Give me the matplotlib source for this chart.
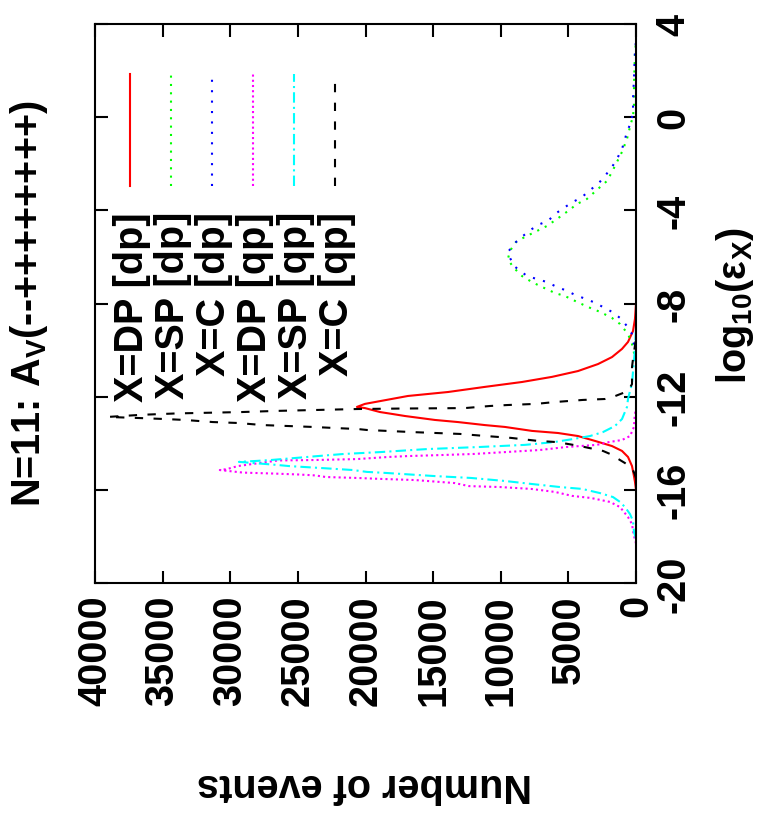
import matplotlib
matplotlib.use("Agg")
import matplotlib.pyplot as plt
import numpy as np

le_dp_dp = [-16.0, -15.66, -15.41, -14.98, -14.59, -14.33, -14.12, -13.90, -13.69, -13.56,
            -13.47, -13.30, -13.22, -13.09, -13.00, -12.83, -12.74, -12.66, -12.49, -12.44,
            -12.31, -11.97, -11.80, -11.58, -11.37, -11.15, -10.90, -10.60, -10.30, -9.95,
            -9.65, -9.18, -8.66, -8.0]
n_dp_dp = [0, 75, 150, 295, 590, 1035, 1775, 3030, 4290, 5770,
           7690, 9690, 11170, 13165, 14865, 17085, 18050, 18930, 20040, 20635,
           20040, 16860, 13900, 11170, 8430, 6210, 4290, 2810, 1775, 1035,
           590, 220, 75, 0]

le_sp_dp = [-10.5, -9.74, -9.31, -8.88, -8.62, -8.36, -8.15, -7.93, -7.68, -7.55,
            -7.29, -7.08, -6.82, -6.43, -6.09, -5.74, -5.36, -5.14, -4.93, -4.67,
            -4.37, -4.03, -3.73, -3.51, -3.08, -2.74, -2.35, -1.92, -1.49, -0.93,
            -0.42, 0.05, 0.48, 1.34, 2.80, 3.2]
n_sp_dp = [0, 295, 590, 1183, 1775, 2660, 3550, 4365, 5250, 5990,
           6950, 7690, 8430, 9100, 9470, 9320, 8875, 8210, 7470, 6580,
           5840, 5030, 4365, 3625, 2810, 2145, 1775, 1405, 1035, 665,
           445, 220, 150, 150, 75, 0]

le_c_dp = [-10.2, -9.31, -8.97, -8.62, -8.36, -8.15, -7.93, -7.76, -7.63, -7.46,
           -7.25, -7.08, -6.82, -6.40, -5.87, -5.74, -5.40, -5.10, -4.80, -4.59,
           -4.46, -4.16, -3.86, -3.64, -3.43, -3.13, -2.87, -2.52, -2.14, -1.79,
           -1.37, -0.64, -0.21, 0.22, 0.78, 1.64, 2.80, 3.3]
n_c_dp = [0, 295, 665, 1183, 1775, 2440, 3180, 3920, 4510, 5100,
          5990, 6580, 8060, 9000, 9470, 9400, 8950, 8360, 7690, 7100,
          6510, 5990, 5250, 4660, 3990, 3400, 2810, 2290, 1775, 1405,
          1035, 665, 370, 220, 220, 150, 75, 0]

le_dp_qp = [-18.3, -17.98, -17.77, -17.47, -17.17, -16.95, -16.74, -16.52, -16.35, -16.26,
            -16.09, -15.96, -15.88, -15.84, -15.71, -15.58, -15.53, -15.49, -15.45, -15.38,
            -15.34, -15.30, -15.26, -15.15, -15.11, -14.98, -14.74, -14.72, -14.68, -14.59,
            -14.55, -14.50, -14.46, -14.38, -14.29, -14.16, -14.07, -13.95, -13.86, -13.69,
            -13.30, -12.83, -12.5]
n_dp_qp = [0, 150, 220, 295, 590, 890, 1183, 1920, 3330, 4730,
           5990, 7770, 10060, 12350, 13390, 16345, 18930, 20635, 22930, 23740,
           25000, 26850, 29065, 30770, 30250, 29440, 26480, 23740, 20635, 18340,
           16860, 14050, 12000, 9690, 7100, 5140, 2900, 2000, 1035, 440,
           150, 100, 0]

le_sp_qp = [-18.1, -17.81, -17.34, -17.04, -16.74, -16.52, -16.31, -16.14, -15.96, -15.88,
            -15.75, -15.62, -15.49, -15.41, -15.28, -15.23, -15.15, -15.06, -14.98, -14.93,
            -14.80, -14.76, -14.72, -14.63, -14.55, -14.46, -14.38, -14.25, -14.16, -14.07,
            -13.95, -13.82, -13.69, -13.52, -13.26, -12.96, -12.44, -12.10, -11.76, -11.46,
            -10.90, -9.95, -9.0]
n_sp_qp = [0, 150, 220, 445, 815, 1183, 1700, 2660, 3990, 5620,
           7690, 9690, 12200, 14865, 18340, 19900, 20930, 23370, 25660, 26550,
           29360, 28100, 27000, 25150, 23520, 21600, 18930, 15460, 11540, 8210,
           6065, 4660, 3400, 2440, 1555, 1035, 665, 590, 445, 295,
           220, 75, 0]

le_c_qp = [-15.5, -15.32, -15.06, -14.85, -14.46, -14.33, -14.12, -13.95, -13.90, -13.77,
           -13.69, -13.60, -13.56, -13.52, -13.47, -13.43, -13.39, -13.35, -13.30, -13.22,
           -13.13, -13.09, -13.00, -12.96, -12.92, -12.87, -12.78, -12.72, -12.66, -12.61,
           -12.53, -12.51, -12.49, -12.40, -12.36, -12.31, -12.23, -12.14, -12.10, -12.01,
           -11.76, -11.46, -10.73, -10.38, -9.5]
n_c_qp = [0, 100, 295, 815, 1920, 2440, 4140, 5840, 7250, 9245,
          11095, 13020, 14790, 16570, 18420, 19900, 20560, 22115, 23890, 27590,
          29440, 31285, 33355, 34835, 36610, 39050, 36610, 34000, 29140, 26500,
          20560, 17400, 12650, 10800, 9540, 7400, 5990, 3920, 2290, 1700,
          590, 295, 295, 220, 0]

labels = ["X=DP [dp]", "X=SP [dp]", "X=C [dp]", "X=DP [qp]", "X=SP [qp]", "X=C [qp]"]
count_ticks = [0, 5000, 10000, 15000, 20000, 25000, 30000, 35000, 40000]
log_ticks = [-20, -16, -12, -8, -4, 0, 4]

plt.rcParams['font.family'] = ['Liberation Sans', 'DejaVu Sans']
plt.rcParams['font.weight'] = 'bold'
plt.rcParams['mathtext.fontset'] = 'custom'
plt.rcParams['mathtext.rm'] = 'Liberation Sans:bold'
plt.rcParams['mathtext.it'] = 'Liberation Sans:bold'
plt.rcParams['mathtext.bf'] = 'Liberation Sans:bold'

FS = 28.5
W, H = 760, 837

fig = plt.figure(figsize=(W / 100, H / 100), dpi=100)
# axes box in pixel terms: x 95..636, y 25..584 (picture is the gnuplot plot turned 90 deg)
ax = fig.add_axes([95 / W, 1 - 584 / H, (636 - 95) / W, (584 - 25) / H])

series = [
    (le_dp_dp, n_dp_dp, '#ff0000', '-'),
    (le_sp_dp, n_sp_dp, '#00ff00', (0, (1, 3))),
    (le_c_dp, n_c_dp, '#0000ff', (0, (1, 4))),
    (le_dp_qp, n_dp_qp, '#ff00ff', (0, (1, 1.5))),
    (le_sp_qp, n_sp_qp, '#00ffff', (0, (5, 2, 1, 2))),
    (le_c_qp, n_c_qp, '#000000', (0, (4, 5))),
]

for k, (le, n, col, ls) in enumerate(series):
    ax.plot(n, le, color=col, linestyle=ls, lw=1.5)
    # hand-made key: sample line above rotated text
    xk = (130 + 41 * k - 95) / (636 - 95)
    ax.plot([xk, xk], [(584 - 187) / 559, (584 - 75) / 559], color=col,
            linestyle=ls, lw=1.5, transform=ax.transAxes)
    ax.text(xk + 2 / 541, (584 - 212) / 559, labels[k], rotation=90,
            ha='center', va='top', fontsize=FS, fontweight='bold',
            transform=ax.transAxes)

ax.set_xlim(40000, 0)
ax.set_ylim(-20, 4)
ax.set_xticks(count_ticks)
ax.set_xticklabels([str(v) for v in count_ticks])
ax.set_yticks(log_ticks)
ax.set_yticklabels([str(v) for v in log_ticks])

ax.tick_params(axis='both', direction='in', length=9, width=1.5,
               top=True, bottom=True, left=True, right=True)
ax.tick_params(axis='x', labelbottom=True, labeltop=False, labelrotation=90,
               labelsize=FS, pad=8)
ax.tick_params(axis='y', labelleft=False, labelright=True, labelrotation=90,
               labelsize=FS, pad=13)
for lab in ax.get_yticklabels():
    lab.set_va('center')
for lab in ax.get_xticklabels():
    lab.set_va('top')
for s in ax.spines.values():
    s.set_linewidth(1.5)

fig.text(29 / W, 1 - 304 / H, r"N=11: A$_{\mathrm{V}}$(--++++++++)", rotation=90,
         ha='center', va='center', fontsize=FS, fontweight='bold')
fig.text(735 / W, 1 - 306 / H, r"log$_{10}$(ε$_{\mathrm{X}}$)", rotation=90,
         ha='center', va='center', fontsize=FS, fontweight='bold')
fig.text(365 / W, 1 - 785 / H, "Number of events", rotation=180,
         ha='center', va='center', fontsize=FS, fontweight='bold')

fig.savefig("out.png", dpi=100)
